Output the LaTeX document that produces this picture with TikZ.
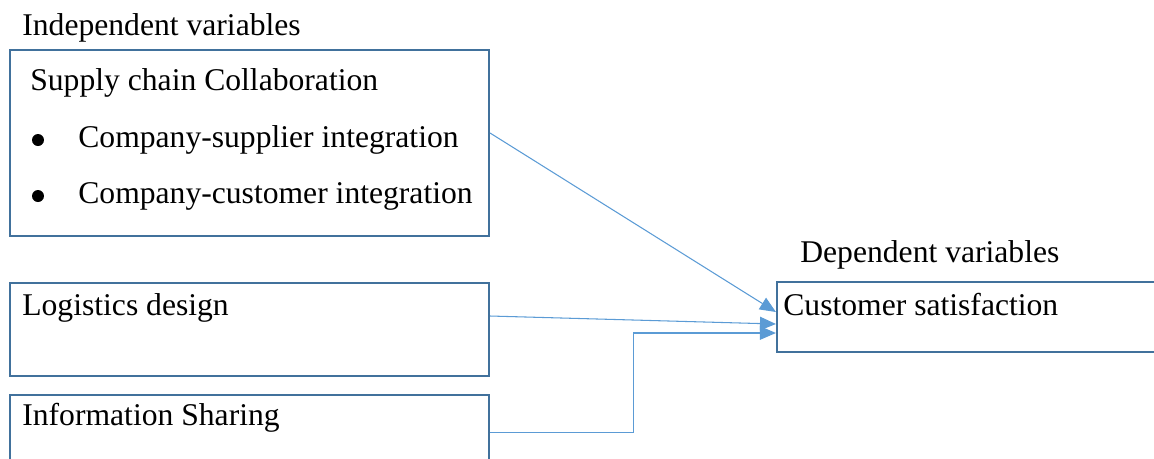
\documentclass[tikz,border=0pt]{standalone}
\usepackage{fontspec}
\setmainfont{Liberation Serif}
\usepackage{xcolor}
\usetikzlibrary{positioning,arrows.meta,fit}

\definecolor{boxline}{HTML}{41719C}
\definecolor{arrline}{HTML}{5B9BD5}

\begin{document}
\begin{tikzpicture}[
  x=0.02cm, y=-0.02cm,
  font=\fontsize{18}{22}\selectfont,
  vbox/.style={rectangle, draw=boxline, line width=1.2pt, inner sep=0pt},
  lbl/.style={inner sep=0pt, anchor=base west},
  dot/.style={circle, fill=black, inner sep=0pt, minimum size=0.24cm},
  arr/.style={-{Triangle[length=3.2mm, width=2.7mm]}, line width=0.6pt, arrline}
]
\clip (0,0) rectangle (1154,458);

% variable boxes
\node[vbox, fit={(10,50) (489,236)}] (collab) {};
\node[vbox, fit={(10,283) (489,376)}] (logist) {};
\node[vbox, fit={(10,395) (489,470)}] (info) {};
\node[vbox, fit={(777,282) (1190,352)}] (custsat) {};

% headings and box texts
\node[lbl] (indep) at (22,35) {Independent variables};
\node[lbl] (dep) at (800,262) {Dependent variables};
\node[lbl] (collabT) at (30,90) {Supply chain Collaboration};
\node[dot] (dotA) at (38,140) {};
\node[lbl] (suppT) at (78,147) {Company-supplier integration};
\node[dot] (dotB) at (38,196) {};
\node[lbl] (custT) at (78,203) {Company-customer integration};
\node[lbl] (logistT) at (22,315) {Logistics design};
\node[lbl] (infoT) at (22,425) {Information Sharing};
\node[lbl] (custsatT) at (783,315) {Customer satisfaction};

% links
\draw[arr] ([yshift=0.2cm]collab.east) -- ([yshift=0.1cm]custsat.west);
\draw[arr] ([yshift=0.27cm]logist.east) -- ([yshift=-0.14cm]custsat.west);
\draw[arr] (info.east) -- ++(143,0) |- ([yshift=-0.32cm]custsat.west);
\end{tikzpicture}
\end{document}
